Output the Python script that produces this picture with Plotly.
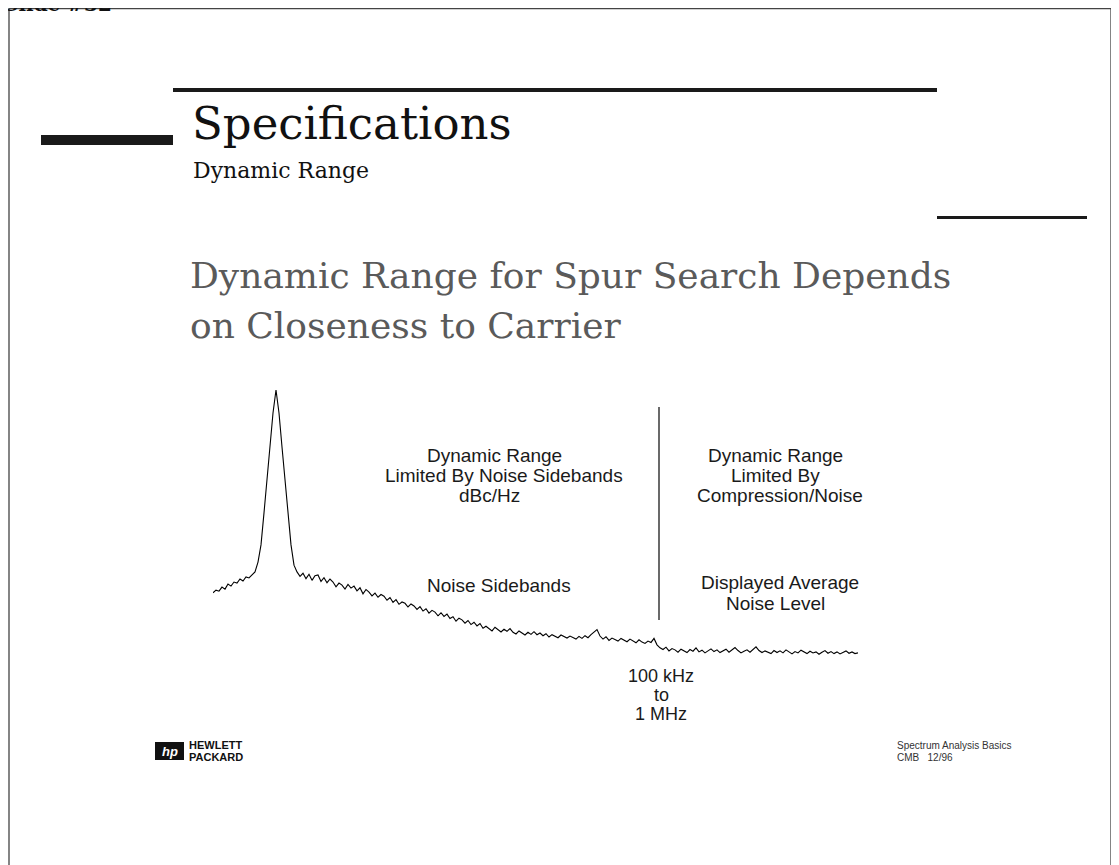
import plotly.graph_objects as go

W, H = 1119, 865
PAGE_PAD = 8  # browser body margin around the plot div

# spectrum trace, one sample every 3 px of screen, level in dB relative to carrier
level_db = [
    -60.1, -59.3, -59.6, -58.4, -59.0, -57.5, -58.1, -56.9, -57.2, -56.0,
    -56.6, -55.4, -55.7, -54.8, -53.9, -51.0, -45.9, -36.4, -26.1, -16.9,
    -6.8, 0.0, -6.8, -16.9, -26.7, -36.4, -45.9, -51.9,
    -53.9, -55.2, -54.3, -55.9, -54.6, -56.4, -55.0, -54.8, -56.7, -55.6,
    -57.1, -56.0, -56.9, -58.3, -57.2, -57.8, -59.0, -57.6, -58.7, -58.1,
    -59.5, -58.6, -60.4, -59.1, -59.9, -61.0, -60.2, -61.4, -60.6, -61.1,
    -62.3, -61.5, -62.9, -62.1, -63.5, -62.8, -63.2, -64.3, -63.4, -64.0,
    -65.0, -64.2, -65.5, -64.8, -66.1, -65.3, -65.8, -66.9, -66.0, -67.1,
    -66.4, -67.7, -67.2, -68.5, -67.6, -68.1, -69.1, -68.3, -69.5, -68.8,
    -69.9, -69.2, -70.6, -70.0, -70.8, -71.4, -70.3, -71.1, -71.7, -70.9,
    -71.5, -70.7, -71.8, -72.3, -71.4, -72.0, -72.6, -71.8, -72.4, -71.6,
    -72.5, -72.0, -72.8, -72.2, -73.2, -72.5, -72.9, -73.4, -72.6, -73.1,
    -73.5, -72.9, -73.3, -73.8, -73.0, -73.6, -72.8, -73.4, -72.5, -71.6,
    -71.0, -72.9, -73.8, -73.1, -74.2, -73.5, -73.9, -74.4, -73.6, -74.1,
    -74.6, -73.8, -74.3, -74.9, -74.0, -74.7, -75.1, -74.4, -74.8, -73.6,
    -75.5, -76.4, -76.9, -76.2, -77.3, -76.6, -77.0, -77.7, -76.8, -77.2,
    -77.8, -76.9, -77.4, -76.4, -77.6, -77.1, -77.9, -77.3, -76.7, -77.5,
    -77.0, -77.8, -77.2, -76.8, -77.7, -77.1, -76.3, -77.2, -77.9, -77.4,
    -77.0, -77.7, -76.9, -76.1, -77.2, -77.8, -77.3, -77.6, -78.1, -77.2,
    -77.8, -77.3, -77.9, -77.0, -77.6, -78.2, -77.5, -77.9, -77.1, -77.7,
    -78.1, -77.4, -77.9, -77.6, -78.3, -77.7, -77.2, -78.0, -77.5, -78.1,
    -77.6, -78.2, -77.8, -77.3, -78.0, -77.6, -78.1, -77.9,
]
freq = list(range(len(level_db)))

left_labels = ["Dynamic Range", "Limited By Noise Sidebands", "dBc/Hz"]
right_labels = ["Dynamic Range", "Limited By", "Compression/Noise"]
floor_labels = ["Displayed Average", "Noise Level"]
offset_labels = ["100 kHz", "to", "1 MHz"]


def px(x):
    return (x - PAGE_PAD) / W


def py(y):
    return 1 - (y - PAGE_PAD) / H


fig = go.Figure()
fig.add_trace(go.Scatter(x=freq, y=level_db, mode="lines",
                         line=dict(color="black", width=1.1),
                         hoverinfo="skip", showlegend=False))

sans = "Liberation Sans, Arial, sans-serif"
serif = "DejaVu Serif, serif"
ann = []


def label(text, x, y, size=19, color="#1a1a1a", family=sans, xanchor="center"):
    ann.append(dict(text=text, x=px(x), y=py(y), xref="paper", yref="paper",
                    showarrow=False, xanchor=xanchor, yanchor="middle",
                    font=dict(family=family, size=size, color=color)))


for i, t in enumerate(left_labels):
    label(t, [494, 504, 489][i], 455 + 20 * i)
for i, t in enumerate(right_labels):
    label(t, [775, 775, 780][i], 455 + 20 * i)
label("Noise Sidebands", 499, 585)
for i, t in enumerate(floor_labels):
    label(t, [780, 775][i], 582 + 21 * i)
for i, t in enumerate(offset_labels):
    label(t, 661, 676 + 19 * i, size=18)

# headings
label("Specifications", 190, 124, size=45, color="#111", family=serif, xanchor="left")
label("Dynamic Range", 191, 171, size=22, color="#111", family=serif, xanchor="left")
label("Dynamic Range for Spur Search Depends", 188, 275, size=36, color="#5a5a5a",
      family=serif, xanchor="left")
label("on Closeness to Carrier", 188, 325, size=36, color="#5a5a5a",
      family=serif, xanchor="left")
label("<b>Slide #32</b>", 2, 4, size=20, color="#111", family=serif, xanchor="left")

# footer
label("<b>HEWLETT</b>", 187, 745, size=11, color="#111", xanchor="left")
label("<b>PACKARD</b>", 187, 757, size=11, color="#111", xanchor="left")
label("<i><b>hp</b></i>", 170, 751, size=13, color="white")
label("Spectrum Analysis Basics", 895, 745, size=10, color="#333", xanchor="left")
label("CMB   12/96", 895, 757, size=10, color="#333", xanchor="left")


def box(x0, y0, x1, y1, **kw):
    return dict(xref="paper", yref="paper", x0=px(x0), x1=px(x1),
                y0=py(y0), y1=py(y1), **kw)


shapes = [
    box(9, 8.7, 1111, 880, type="rect", line=dict(color="#444", width=1.3)),
    box(41, 135, 173, 145, type="rect", fillcolor="#1a1a1a", line=dict(width=0)),
    box(173, 88, 937, 92, type="rect", fillcolor="#1a1a1a", line=dict(width=0)),
    box(937, 216, 1087, 219, type="rect", fillcolor="#1a1a1a", line=dict(width=0)),
    box(659, 407, 659, 620, type="line", line=dict(color="#1a1a1a", width=1.3)),
    box(155, 742, 184, 760, type="rect", fillcolor="#111", line=dict(width=0)),
]

fig.update_layout(
    width=W, height=H,
    margin=dict(l=0, r=0, t=0, b=0),
    paper_bgcolor="white", plot_bgcolor="white",
    xaxis=dict(domain=[px(213), px(858)], range=[0, len(level_db) - 1],
               visible=False, fixedrange=True),
    yaxis=dict(domain=[py(660), py(390)], range=[-80, 0],
               visible=False, fixedrange=True),
    annotations=ann,
    shapes=shapes,
    showlegend=False,
)

fig.write_html("out.html")
